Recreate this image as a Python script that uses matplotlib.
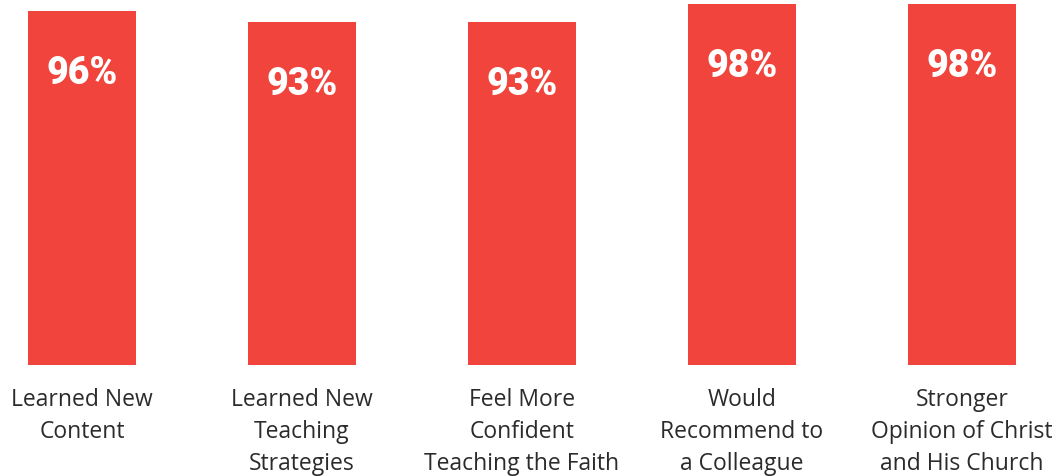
import matplotlib.pyplot as plt
import numpy as np

categories = ["Learned New\nContent", "Learned New\nTeaching\nStrategies",
              "Feel More\nConfident\nTeaching the Faith", "Would\nRecommend to\na Colleague",
              "Stronger\nOpinion of Christ\nand His Church"]
values = [96, 93, 93, 98, 98]

red = "#F0443C"
W, H = 1064, 477

fig = plt.figure(figsize=(W / 100, H / 100), dpi=100)
ax = fig.add_axes([0, 1 - 366 / H, 1, (366 - 5) / H])

x = np.arange(len(values))
ax.bar(x, values, width=108 / 220, color=red)
ax.set_xlim(-82 / 220, (W - 82) / 220)
ax.set_ylim(0, 98)

for xi, v in zip(x, values):
    ax.text(xi, v - 16.6, f"{v}%", ha="center", va="center", color="white",
            fontsize=27, fontweight="heavy", family="Roboto")

ax.set_xticks(x)
ax.set_xticklabels(categories, fontsize=16.5, family="Open Sans", color="#2b2b2b",
                   linespacing=1.45, va="top")
ax.tick_params(axis="x", length=0, pad=16)
ax.set_yticks([])
for s in ax.spines.values():
    s.set_visible(False)

fig.savefig("out.png", dpi=100)
